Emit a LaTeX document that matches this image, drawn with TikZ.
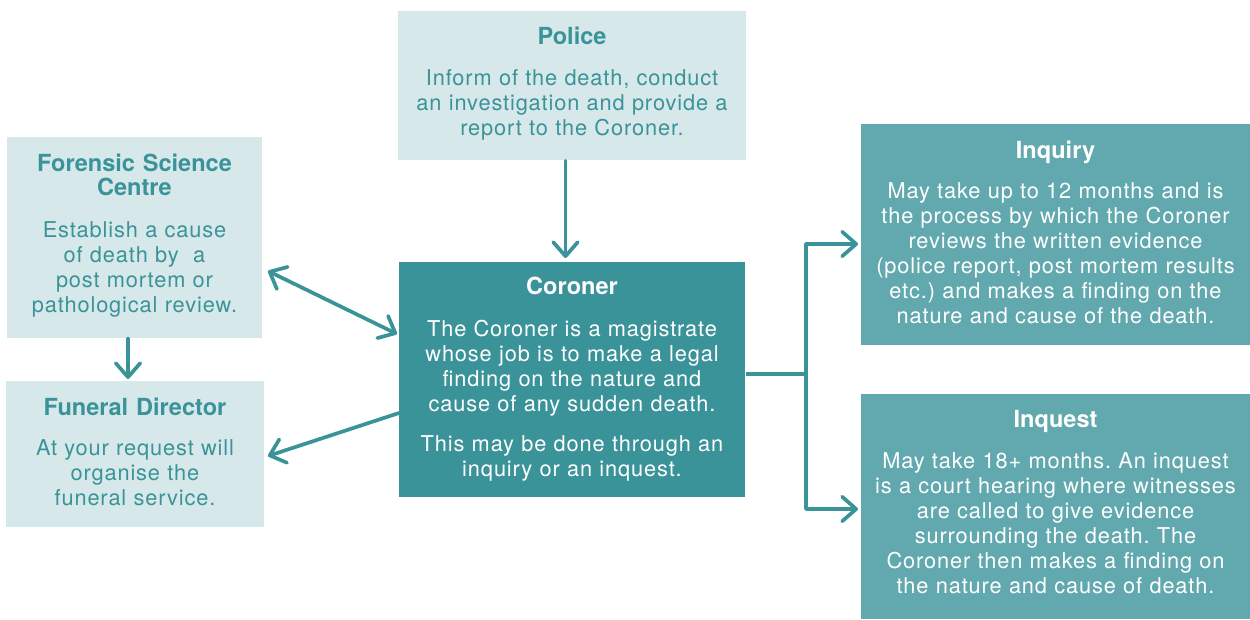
\documentclass[tikz,border=0pt]{standalone}
\usepackage{fontspec}
\setmainfont{TeX Gyre Heros}
\newfontfamily\bodyfont{TeX Gyre Heros}[LetterSpace=4, WordSpace=1.2]
\newfontfamily\headfont{TeX Gyre Heros}[UprightFont=*-Bold]
\usetikzlibrary{arrows.meta}
\definecolor{teal1}{HTML}{3A9399}
\definecolor{teal2}{HTML}{61A9AE}
\definecolor{pale}{HTML}{D7E8EA}
\newdimen\px \px=0.02cm
\frenchspacing
\begin{document}
\begin{tikzpicture}[x=0.02cm, y=-0.02cm,
  lightbox/.style={rectangle, fill=pale, draw=none, inner sep=0, anchor=north west},
  darkbox/.style={rectangle, fill=teal1, draw=none, inner sep=0, anchor=north west},
  midbox/.style={rectangle, fill=teal2, draw=none, inner sep=0, anchor=north west},
  ttl/.style={anchor=base, inner sep=0, align=center, text width=#1,
    font=\headfont\fontsize{13.4}{14.2}\selectfont\frenchspacing},
  txt/.style={anchor=base, inner sep=0, align=center, text width=#1,
    font=\bodyfont\fontsize{12.4}{14.3}\selectfont\frenchspacing},
  conn/.style={draw=teal1, line width=2.1pt, line cap=round, line join=round},
  tip/.style={-{Straight Barb[length=8pt,width=14pt,line cap=round,line join=round]}},
  bitip/.style={{Straight Barb[length=8pt,width=14pt,line cap=round,line join=round]}-{Straight Barb[length=8pt,width=14pt,line cap=round,line join=round]}}
]
\useasboundingbox (0,0) rectangle (1250,619);

% boxes
\node[lightbox, minimum width=348\px, minimum height=149\px] (police) at (398,11) {};
\node[lightbox, minimum width=255\px, minimum height=201\px] (fsc) at (7,137) {};
\node[lightbox, minimum width=258\px, minimum height=146\px] (funeral) at (6,381) {};
\node[darkbox, minimum width=346\px, minimum height=235\px] (coroner) at (399,262) {};
\node[midbox, minimum width=389\px, minimum height=221\px] (inquiry) at (861,124) {};
\node[midbox, minimum width=389\px, minimum height=225\px] (inquest) at (861,394) {};

% texts
\node[ttl=330\px, text=teal1] (policeT) at (572,44) {Police};
\node[txt=345\px, text=teal1] (policeB) at (572,85) {Inform of the death, conduct\\an investigation and provide a\\report to the Coroner.};

\node[ttl=250\px, text=teal1] (fscT) at (134.5,171) {Forensic Science\\Centre};
\node[txt=250\px, text=teal1] (fscB) at (134.5,237) {Establish a cause\\of death by \ a\\post mortem or\\pathological review.};

\node[ttl=250\px, text=teal1] (funeralT) at (135,415) {Funeral Director};
\node[txt=250\px, text=teal1] (funeralB) at (135,455) {At your request will\\organise the\\funeral service.};

\node[ttl=330\px, text=white] (coronerT) at (572,294) {Coroner};
\node[txt=345\px, text=white] (coronerB) at (572,336) {The Coroner is a magistrate\\whose job is to make a legal\\finding on the nature and\\cause of any sudden death.\\[8.5pt]This may be done through an\\inquiry or an inquest.};

\node[ttl=380\px, text=white] (inquiryT) at (1055.5,158) {Inquiry};
\node[txt=388\px, text=white] (inquiryB) at (1055.5,198) {May take up to 12 months and is\\the process by which the Coroner\\reviews the written evidence\\(police report, post mortem results\\etc.) and makes a finding on the\\nature and cause of the death.};

\node[ttl=380\px, text=white] (inquestT) at (1055.5,427) {Inquest};
\node[txt=388\px, text=white] (inquestB) at (1055.5,468) {May take 18+ months. An inquest\\is a court hearing where witnesses\\are called to give evidence\\surrounding the death. The\\Coroner then makes a finding on\\the nature and cause of death.};

% connector coordinates
\coordinate (pc1) at (565.5,160);
\coordinate (pc2) at (565.5,258);
\coordinate (ff1) at (128,339);
\coordinate (ff2) at (128,379);
\coordinate (fc1) at (268,271);
\coordinate (fc2) at (397,334);
\coordinate (cf1) at (399,413);
\coordinate (cf2) at (268,456);
\coordinate (br0) at (745,374);
\coordinate (br1) at (806,374);
\coordinate (brT) at (806,244);
\coordinate (brB) at (806,509);
\coordinate (iq1) at (858,244);
\coordinate (iq2) at (858,509);

% connectors
\draw[conn, tip] (police.south -| pc1) -- (pc2);
\draw[conn, tip] (fsc.south -| ff1) -- (ff2);
\draw[conn, bitip] (fc1) -- (fc2);
\draw[conn, tip] (coroner.west |- cf1) -- (cf2);
\draw[conn, line cap=butt] (coroner.east |- br0) -- (br1);
\draw[conn, tip] (br1) -- (brT) -- (iq1);
\draw[conn, tip] (br1) -- (brB) -- (iq2);
\end{tikzpicture}
\end{document}
